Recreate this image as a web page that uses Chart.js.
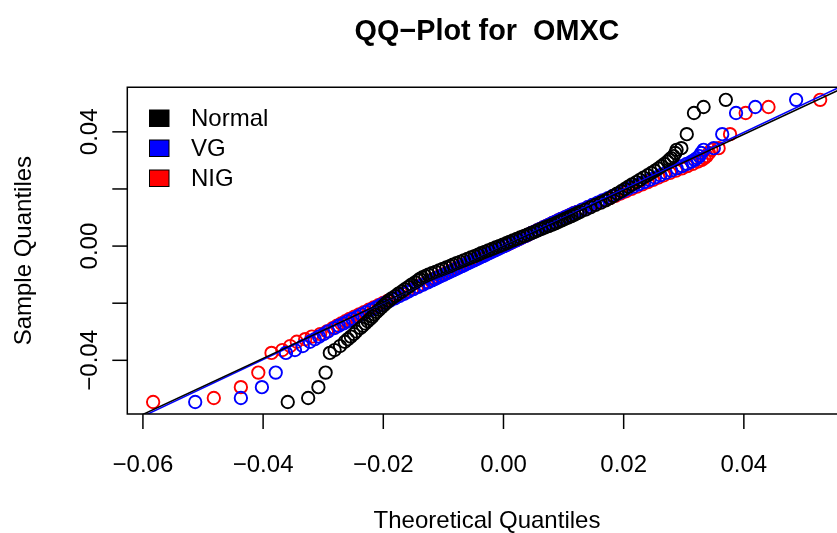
<!DOCTYPE html>
<html>
<head>
<meta charset="utf-8">
<script src="https://cdn.jsdelivr.net/npm/chart.js@4.4.1/dist/chart.umd.min.js"></script>
<style>
  html, body { margin: 0; padding: 0; background: #fff; }
  #wrap { width: 837px; height: 533px; }
</style>
</head>
<body>
<div id="wrap"><canvas id="qq" width="837" height="533"></canvas></div>
<script>
// sorted sample quantiles of OMXC returns (shared by all three fits)
const sampleQ = [
  -0.0546, -0.0532, -0.0494, -0.0443, -0.0374, -0.0364, -0.0350, -0.0335, -0.0326, -0.0317, -0.0308, -0.0299, -0.0287,
  -0.0279, -0.0271, -0.0263, -0.0255, -0.0247, -0.0239, -0.0231, -0.0223, -0.0215, -0.0207, -0.0199,
  -0.0191, -0.0183, -0.0175, -0.0167, -0.0159, -0.0151, -0.0143, -0.0135, -0.0127, -0.0120,
  -0.0115, -0.0110, -0.0105, -0.0100, -0.0095, -0.0090, -0.0085, -0.0080, -0.0075, -0.0070, -0.0065, -0.0060,
  -0.0055, -0.0050, -0.0045, -0.0040, -0.0035, -0.0030, -0.0025, -0.0020, -0.0015, -0.0010, -0.0005, 0.0000,
  0.0005, 0.0010, 0.0015, 0.0020, 0.0025, 0.0030, 0.0035, 0.0040, 0.0045, 0.0050, 0.0055, 0.0060,
  0.0065, 0.0070, 0.0075, 0.0080, 0.0085, 0.0090, 0.0095, 0.0100, 0.0105, 0.0110, 0.0115,
  0.0120, 0.0128, 0.0136, 0.0144, 0.0152, 0.0160, 0.0168, 0.0176, 0.0184, 0.0192, 0.0200, 0.0208,
  0.0216, 0.0224, 0.0232, 0.0240, 0.0248, 0.0256, 0.0264, 0.0272, 0.0280, 0.0288, 0.0296,
  0.0302, 0.0308, 0.0315, 0.0326, 0.0337, 0.0343, 0.0392, 0.0466, 0.0487, 0.0512
];

// theoretical quantiles, Normal fit
const normalQ = [
  -0.0359, -0.0325, -0.0308, -0.0296, -0.0289, -0.0281, -0.0272, -0.0264, -0.0259, -0.0254, -0.0249, -0.0245, -0.0238,
  -0.0234, -0.0230, -0.0226, -0.0222, -0.0218, -0.0215, -0.0211, -0.0207, -0.0203, -0.0199, -0.0195,
  -0.0191, -0.0186, -0.0180, -0.0175, -0.0169, -0.0164, -0.0158, -0.0153, -0.0147, -0.0142,
  -0.0139, -0.0135, -0.0130, -0.0125, -0.0119, -0.0113, -0.0107, -0.0101, -0.0095, -0.0089, -0.0084, -0.0078,
  -0.0072, -0.0066, -0.0060, -0.0054, -0.0048, -0.0042, -0.0037, -0.0031, -0.0025, -0.0019, -0.0013, -0.0007,
  -0.0001, 0.0005, 0.0010, 0.0016, 0.0022, 0.0028, 0.0034, 0.0040, 0.0046, 0.0052, 0.0057, 0.0063,
  0.0069, 0.0075, 0.0081, 0.0087, 0.0092, 0.0097, 0.0102, 0.0108, 0.0113, 0.0118, 0.0123,
  0.0128, 0.0137, 0.0145, 0.0153, 0.0162, 0.0170, 0.0177, 0.0183, 0.0189, 0.0196, 0.0202, 0.0208,
  0.0214, 0.0221, 0.0227, 0.0233, 0.0240, 0.0246, 0.0252, 0.0258, 0.0263, 0.0268, 0.0273,
  0.0276, 0.0279, 0.0283, 0.0286, 0.0288, 0.0296, 0.0305, 0.0317, 0.0333, 0.0370
];

// theoretical quantiles, VG fit
const vgQ = [
  -0.0513, -0.0437, -0.0402, -0.0379, -0.0362, -0.0347, -0.0334, -0.0322, -0.0314, -0.0307, -0.0299, -0.0292, -0.0281,
  -0.0274, -0.0266, -0.0259, -0.0251, -0.0243, -0.0236, -0.0228, -0.0220, -0.0212, -0.0205, -0.0197,
  -0.0189, -0.0181, -0.0173, -0.0165, -0.0158, -0.0150, -0.0142, -0.0134, -0.0126, -0.0119,
  -0.0114, -0.0109, -0.0104, -0.0099, -0.0094, -0.0089, -0.0084, -0.0079, -0.0074, -0.0069, -0.0064, -0.0059,
  -0.0054, -0.0049, -0.0044, -0.0039, -0.0034, -0.0029, -0.0024, -0.0019, -0.0014, -0.0009, -0.0004, 0.0001,
  0.0006, 0.0011, 0.0016, 0.0021, 0.0026, 0.0031, 0.0036, 0.0041, 0.0046, 0.0051, 0.0056, 0.0061,
  0.0066, 0.0071, 0.0076, 0.0081, 0.0086, 0.0091, 0.0096, 0.0102, 0.0107, 0.0112, 0.0117,
  0.0123, 0.0131, 0.0140, 0.0148, 0.0157, 0.0165, 0.0174, 0.0182, 0.0191, 0.0199, 0.0207, 0.0216,
  0.0225, 0.0234, 0.0243, 0.0252, 0.0261, 0.0270, 0.0279, 0.0288, 0.0297, 0.0305, 0.0313,
  0.0318, 0.0322, 0.0326, 0.0329, 0.0333, 0.0350, 0.0364, 0.0387, 0.0419, 0.0487
];

// theoretical quantiles, NIG fit
const nigQ = [
  -0.0583, -0.0482, -0.0437, -0.0408, -0.0386, -0.0368, -0.0355, -0.0344, -0.0330, -0.0319, -0.0305, -0.0294, -0.0284,
  -0.0277, -0.0270, -0.0263, -0.0256, -0.0248, -0.0240, -0.0232, -0.0224, -0.0216, -0.0208, -0.0200,
  -0.0192, -0.0184, -0.0176, -0.0168, -0.0160, -0.0152, -0.0144, -0.0136, -0.0128, -0.0121,
  -0.0116, -0.0111, -0.0106, -0.0101, -0.0096, -0.0091, -0.0086, -0.0081, -0.0076, -0.0071, -0.0066, -0.0061,
  -0.0056, -0.0051, -0.0046, -0.0041, -0.0036, -0.0031, -0.0026, -0.0021, -0.0016, -0.0011, -0.0006, 0.0000,
  0.0006, 0.0011, 0.0016, 0.0021, 0.0026, 0.0031, 0.0036, 0.0041, 0.0046, 0.0051, 0.0056, 0.0061,
  0.0066, 0.0071, 0.0076, 0.0081, 0.0086, 0.0091, 0.0096, 0.0102, 0.0107, 0.0112, 0.0117,
  0.0123, 0.0132, 0.0141, 0.0150, 0.0159, 0.0168, 0.0177, 0.0186, 0.0195, 0.0204, 0.0213, 0.0222,
  0.0231, 0.0240, 0.0249, 0.0258, 0.0267, 0.0277, 0.0287, 0.0297, 0.0306, 0.0315, 0.0324,
  0.0330, 0.0334, 0.0338, 0.0342, 0.0346, 0.0358, 0.0377, 0.0403, 0.0441, 0.0527
];

// reference lines (end points)
const normalLineX = [-0.0626, 0.0570];
const normalLineY = [-0.0615, 0.0558];
const vgLineX = [-0.0626, 0.0570];
const vgLineY = [-0.0622, 0.0567];

const xTicks = [-0.06, -0.04, -0.02, 0.00, 0.02, 0.04];
const xTickLabels = ['\u22120.06', '\u22120.04', '\u22120.02', '0.00', '0.02', '0.04'];
const yTicks = [-0.04, -0.02, 0.00, 0.02, 0.04];
const yTickLabels = ['\u22120.04', '', '0.00', '', '0.04'];

const legendNames = ['Normal', 'VG', 'NIG'];
const legendColors = ['#000000', '#0000ff', '#ff0000'];

function pts(xs, ys) {
  return xs.map((x, i) => ({ x: x, y: ys[i] }));
}

const FONT = '"Liberation Sans", Arial, Helvetica, sans-serif';

const rBase = {
  id: 'rBase',
  afterDraw(chart) {
    const c = chart.ctx;
    const a = chart.chartArea;
    const xs = chart.scales.x, ys = chart.scales.y;
    c.save();
    c.strokeStyle = '#000';
    c.fillStyle = '#000';
    c.lineWidth = 1.5;
    // box (right side falls off the canvas)
    c.beginPath();
    c.moveTo(chart.width + 5, a.top);
    c.lineTo(a.left, a.top);
    c.lineTo(a.left, a.bottom);
    c.lineTo(chart.width + 5, a.bottom);
    c.stroke();

    // x axis ticks
    c.font = '24px ' + FONT;
    c.textAlign = 'center';
    c.textBaseline = 'alphabetic';
    xTicks.forEach((v, i) => {
      const px = xs.getPixelForValue(v);
      c.beginPath();
      c.moveTo(px, a.bottom);
      c.lineTo(px, a.bottom + 15);
      c.stroke();
      c.fillText(xTickLabels[i], px, 472);
    });

    // y axis ticks, labels turned like R does
    yTicks.forEach((v, i) => {
      const py = ys.getPixelForValue(v);
      c.beginPath();
      c.moveTo(a.left, py);
      c.lineTo(a.left - 15, py);
      c.stroke();
      if (yTickLabels[i]) {
        c.save();
        c.translate(97, py);
        c.rotate(-Math.PI / 2);
        c.fillText(yTickLabels[i], 0, 0);
        c.restore();
      }
    });

    // titles
    c.fillText('Theoretical Quantiles', 487, 528);
    c.save();
    c.translate(31, (a.top + a.bottom) / 2);
    c.rotate(-Math.PI / 2);
    c.fillText('Sample Quantiles', 0, 0);
    c.restore();
    c.font = 'bold 28.8px ' + FONT;
    c.fillText('QQ\u2212Plot for  OMXC', 487, 40);

    // legend
    c.font = '24px ' + FONT;
    c.textAlign = 'left';
    c.textBaseline = 'middle';
    c.lineWidth = 1;
    legendNames.forEach((n, i) => {
      const cy = 118 + i * 30;
      c.fillStyle = legendColors[i];
      c.fillRect(149.5, cy - 8, 19.5, 16.5);
      c.strokeStyle = '#000';
      c.strokeRect(149.5, cy - 8, 19.5, 16.5);
      c.fillStyle = '#000';
      c.fillText(n, 191, cy + 1);
    });
    c.restore();
  }
};

function pointSet(label, data, color, order) {
  return {
    label: label,
    data: data,
    showLine: false,
    pointStyle: 'circle',
    pointRadius: 6.2,
    pointBorderWidth: 1.9,
    pointBorderColor: color,
    pointBackgroundColor: 'rgba(0,0,0,0)',
    borderColor: color,
    order: order
  };
}

function lineSet(label, data, color) {
  return {
    label: label,
    data: data,
    showLine: true,
    pointRadius: 0,
    borderWidth: 1.5,
    borderColor: color,
    order: 0
  };
}

new Chart(document.getElementById('qq'), {
  type: 'scatter',
  data: {
    datasets: [
      lineSet('Normal line', pts(normalLineX, normalLineY), '#000000'),
      lineSet('VG line', pts(vgLineX, vgLineY), '#0000ff'),
      pointSet('Normal', pts(normalQ, sampleQ), '#000000', 1),
      pointSet('VG', pts(vgQ, sampleQ), '#0000ff', 2),
      pointSet('NIG', pts(nigQ, sampleQ), '#ff0000', 3)
    ]
  },
  options: {
    responsive: false,
    animation: false,
    devicePixelRatio: 1,
    layout: { autoPadding: false, padding: { left: 127.3, top: 87.3, right: 0, bottom: 119 } },
    plugins: { legend: { display: false }, tooltip: { enabled: false } },
    scales: {
      x: { type: 'linear', min: -0.0626, max: 0.0555, display: false },
      y: { type: 'linear', min: -0.0588, max: 0.0556, display: false }
    }
  },
  plugins: [rBase]
});
</script>
</body>
</html>
